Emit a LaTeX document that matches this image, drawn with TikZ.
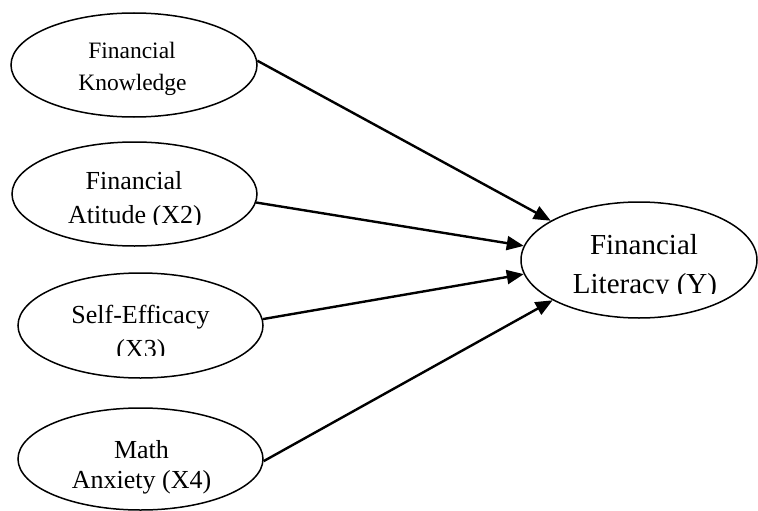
\documentclass[tikz,border=0pt]{standalone}
\usepackage{fontspec}
\setmainfont{Liberation Serif}
\usetikzlibrary{
    arrows.meta,
    shapes.geometric
}

\begin{document}
\begin{tikzpicture}[x=1pt, y=-1pt,
    var/.style={draw, ellipse, line width=1.5pt, inner sep=0pt},
    lbl/.style={anchor=base, inner sep=0pt, font=\fontsize{26}{31}\selectfont},
    arr/.style={line width=2.4pt, -{Triangle[length=17pt, width=14pt]}}]
\useasboundingbox (0,0) rectangle (758,511);

% Independent variables
\node[var, minimum width=246pt, minimum height=104pt] (know) at (134,65) {};
\node[var, minimum width=245pt, minimum height=104pt] (att) at (134.5,194) {};
\node[var, minimum width=245pt, minimum height=105pt] (self) at (140.5,325.5) {};
\node[var, minimum width=245pt, minimum height=102pt] (math) at (140.5,459) {};

% Dependent variable
\node[var, minimum width=236pt, minimum height=116pt] (lit) at (639,260) {};

% Labels
\node[lbl, font=\fontsize{23.5}{28}\selectfont] at (132,59) {Financial};
\node[lbl, font=\fontsize{23.5}{28}\selectfont] at (132.5,90) {Knowledge};

\node[lbl] at (134,189) {Financial};
\begin{scope}
\clip (0,0) rectangle (758,224);
\node[lbl] at (135,223) {Atitude (X2)};
\end{scope}

\node[lbl] at (140.5,323) {Self-Efficacy};
\begin{scope}
\clip (0,0) rectangle (758,355);
\node[lbl] at (141,357) {(X3)};
\end{scope}

\node[lbl] at (141.5,458) {Math};
\node[lbl] at (141.5,488) {Anxiety (X4)};

\node[lbl, font=\fontsize{29}{35}\selectfont] at (644,254) {Financial};
\begin{scope}
\clip (0,0) rectangle (758,293);
\node[lbl, font=\fontsize{29}{35}\selectfont] at (645,293) {Literacy (Y)};
\end{scope}

% Paths
\draw[arr] (know.2) -- (lit.156);
\draw[arr] (att.-4) -- (lit.173);
\draw[arr] (self.3) -- (lit.187);
\draw[arr] (math.-1) -- (lit.205);
\end{tikzpicture}
\end{document}
